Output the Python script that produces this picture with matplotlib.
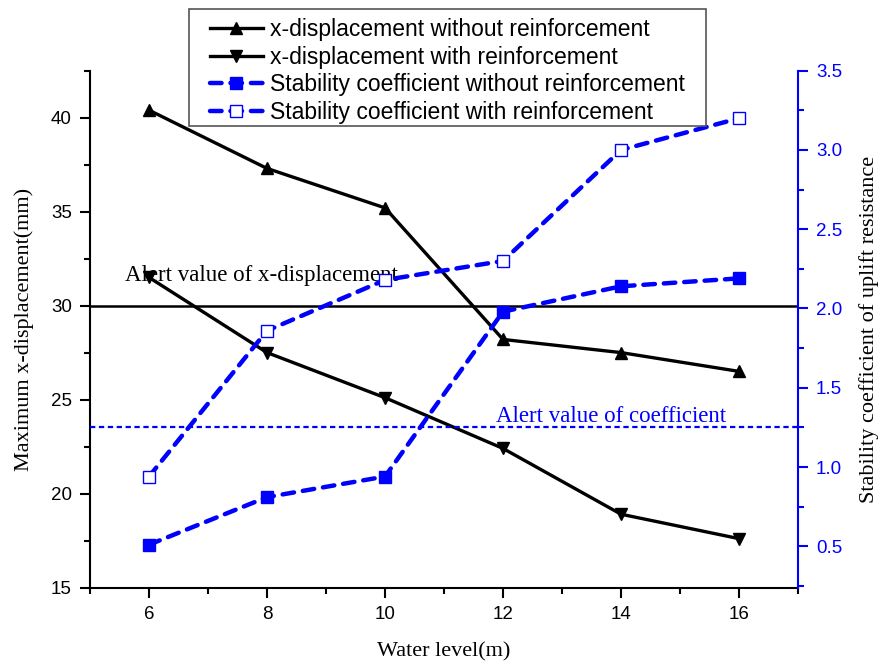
import matplotlib
matplotlib.use('Agg')
import matplotlib.pyplot as plt
from matplotlib.patches import Rectangle
from matplotlib.ticker import MultipleLocator

# water level (m)
water_level = [6, 8, 10, 12, 14, 16]

# maximum x-displacement (mm)
disp_without = [40.4, 37.3, 35.2, 28.2, 27.5, 26.5]
disp_with = [31.5, 27.5, 25.1, 22.4, 18.9, 17.6]

# stability coefficient of uplift resistance
coef_without = [0.51, 0.81, 0.94, 1.98, 2.14, 2.19]
coef_with = [0.94, 1.86, 2.18, 2.30, 3.00, 3.20]

disp_alert = 30
coef_alert = 1.25

serif = 'Liberation Serif'
sans = 'Liberation Sans'
blue = '#0000FF'

fig = plt.figure(figsize=(8.8, 6.69), dpi=100)
ax = fig.add_axes([90/880, 1-587.5/669, (798-90)/880, (587.5-70.7)/669])
ax2 = ax.twinx()

l1, = ax.plot(water_level, disp_without, color='black', lw=2.4, marker='^', ms=9)
l2, = ax.plot(water_level, disp_with, color='black', lw=2.4, marker='v', ms=9)
ax.axhline(disp_alert, color='black', lw=1.8)
ax.text(5.59, 31.3, 'Alert value of x-displacement', family=serif, fontsize=16.5, va='baseline')

dash = dict(color=blue, lw=3.2, dashes=(2.6, 2.0), dash_capstyle='round')
l3, = ax2.plot(water_level, coef_without, marker='s', ms=8, mfc=blue, mec=blue, **dash)
l4, = ax2.plot(water_level, coef_with, marker='s', ms=8, mfc='white', mec=blue, mew=1.0, **dash)
ax2.axhline(coef_alert, color=blue, lw=1.6, dashes=(2.4, 1.6))
ax2.text(11.875, 1.285, 'Alert value of coefficient', family=serif, fontsize=16.5, color=blue, va='baseline')

ax.set_xlim(5, 17)
ax.set_ylim(15, 42.5)
ax2.set_ylim(0.24, 3.5)

ax.xaxis.set_major_locator(MultipleLocator(2))
ax.xaxis.set_minor_locator(MultipleLocator(1))
ax.yaxis.set_major_locator(MultipleLocator(5))
ax.yaxis.set_minor_locator(MultipleLocator(2.5))
ax2.yaxis.set_major_locator(MultipleLocator(0.5))
ax2.yaxis.set_minor_locator(MultipleLocator(0.25))

for a in (ax, ax2):
    a.spines['top'].set_visible(False)
    for s in a.spines.values():
        s.set_linewidth(1.5)
ax.spines['right'].set_visible(False)
ax2.spines['left'].set_visible(False)
ax2.spines['bottom'].set_visible(False)
ax2.spines['right'].set_color(blue)

ax.tick_params(which='major', direction='out', length=7, width=1.5, labelsize=13.5, pad=6)
ax.tick_params(which='minor', direction='out', length=4.5, width=1.5)
ax2.tick_params(which='major', direction='out', length=7, width=1.5, labelsize=13.5, pad=6, colors=blue)
ax2.tick_params(which='minor', direction='out', length=4.5, width=1.5, colors=blue)
for lab in ax.get_xticklabels() + ax.get_yticklabels() + ax2.get_yticklabels():
    lab.set_family(sans)

ax.set_xlabel('Water level(m)', family=serif, fontsize=16, labelpad=14)
ax.set_ylabel('Maximum x-displacement(mm)', family=serif, fontsize=16, labelpad=12)
ax2.set_ylabel('Stability coefficient of uplift resistance', family=serif, fontsize=16, labelpad=12)

# legend box drawn separately so its padding matches the original
box = Rectangle((189/880, 1-126/669), 517/880, 117/669, transform=fig.transFigure,
                facecolor='white', edgecolor='#555555', lw=1.2, zorder=4)
fig.patches.append(box)

leg = fig.legend([l1, l2, l3, l4],
                 ['x-displacement without reinforcement', 'x-displacement with reinforcement',
                  'Stability coefficient without reinforcement', 'Stability coefficient with reinforcement'],
                 loc='upper left', bbox_to_anchor=(210/880, 1-18/669), borderaxespad=0,
                 prop={'family': sans, 'size': 16.5}, frameon=False,
                 handlelength=2.3, labelspacing=0.2, borderpad=0,
                 handletextpad=0.3)
leg.set_zorder(5)

fig.savefig('out.png', dpi=100)
